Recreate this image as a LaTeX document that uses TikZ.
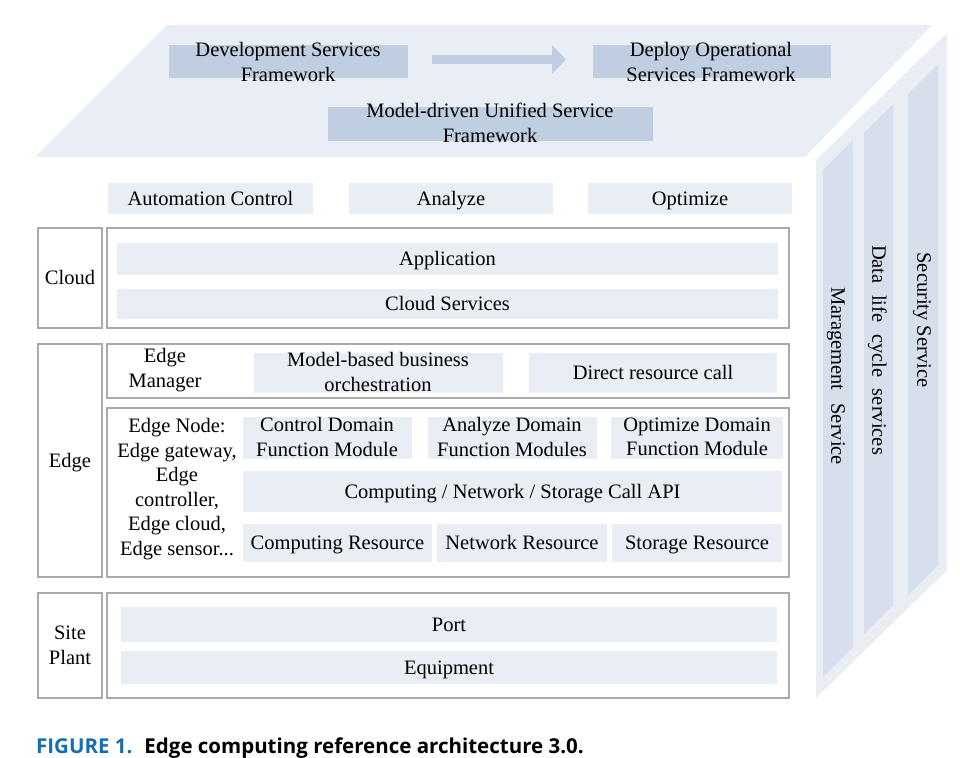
\documentclass[tikz,border=0pt]{standalone}
\usepackage{fontspec}
\setmainfont{Liberation Serif}
\newfontfamily\capfont{Open Sans}
\usetikzlibrary{arrows.meta}
\definecolor{lightc}{RGB}{233,237,244}
\definecolor{darkc}{RGB}{191,206,224}
\definecolor{stripc}{RGB}{214,223,235}
\definecolor{linec}{RGB}{170,170,170}
\definecolor{capblue}{RGB}{22,110,176}
\begin{document}
\begin{tikzpicture}[x=1pt,y=-1pt,
  txt/.style={inner sep=0pt, outer sep=0pt, align=center, font=\fontsize{20.5}{24.5}\selectfont},
  bar/.style={fill=lightc, inner sep=0pt, outer sep=0pt, text height=13.5pt, text depth=0pt, font=\fontsize{20.5}{24.5}\selectfont},
  topbar/.style={fill=darkc, inner sep=0pt, outer sep=0pt},
  strip/.style={fill=stripc},
  frame/.style={draw=linec, line width=1.1pt, inner sep=0pt, outer sep=0pt, align=center, font=\fontsize{20.5}{24.5}\selectfont},
  frameone/.style={frame, text height=13.5pt, text depth=0pt},
  vtxt/.style={inner sep=0pt, rotate=-90, text height=13.5pt, text depth=0pt, font=\fontsize{20.5}{24.5}\selectfont},
  bigarrow/.style={draw=darkc, line width=9pt, -{Triangle[length=14pt,width=28pt]}}
]
\useasboundingbox (0,0) rectangle (960,757);

% top plane
\fill[lightc] (35,157) -- (167,25) -- (932,25) -- (805,157) -- cycle;
\node[topbar, minimum width=239pt, minimum height=33pt] (dev) at (288.5,61.5) {};
\node[topbar, minimum width=238pt, minimum height=33pt] (deploy) at (712,61.5) {};
\node[topbar, minimum width=325pt, minimum height=34pt] (model) at (490.5,124) {};
\node[txt] (devt) at (288,62) {Development Services\\Framework};
\node[txt] (deployt) at (711,62) {Deploy Operational\\Services Framework};
\node[txt] (modelt) at (490,123) {Model-driven Unified Service\\Framework};
\draw[bigarrow] ([xshift=24pt,yshift=2pt]dev.east) -- ([xshift=-27pt,yshift=2pt]deploy.west);

% right side face
\fill[lightc] (816,160) -- (947,33) -- (947,570) -- (816,698) -- cycle;
\fill[strip] (823,170) -- (853,140) -- (853,647) -- (823,677) -- cycle;
\fill[strip] (864,133) -- (893,104) -- (893,605) -- (864,634) -- cycle;
\fill[strip] (908,94) -- (938,64) -- (938,565) -- (908,595) -- cycle;
\node[vtxt] (mgmt) at (838,376) {\makebox[178pt][s]{Maragement Service}};
\node[vtxt] (data) at (879,350) {\makebox[210pt][s]{Data life cycle services}};
\node[vtxt] (sec) at (924,320) {Security Service};

% function row
\node[bar, minimum width=205pt, minimum height=31pt] (auto) at (210.5,198.5) {Automation Control};
\node[bar, minimum width=204pt, minimum height=31pt] (anal) at (451,198.5) {Analyze};
\node[bar, minimum width=204pt, minimum height=31pt] (opt) at (690,198.5) {Optimize};

% cloud
\node[frameone, minimum width=64pt, minimum height=100pt] (cloudl) at (70,278) {Cloud};
\node[frame, minimum width=682pt, minimum height=100pt] (cloudr) at (448,278) {};
\node[bar, minimum width=661pt, minimum height=32pt] (app) at (447.5,259) {Application};
\node[bar, minimum width=661pt, minimum height=30pt] (cs) at (447.5,304) {Cloud Services};

% edge
\node[frameone, minimum width=64pt, minimum height=233pt] (edgel) at (70,460.5) {Edge};
\node[frame, minimum width=682pt, minimum height=54pt] (emgr) at (448,371) {};
\node[frame, minimum width=682pt, minimum height=169pt] (enode) at (448,492.5) {};
\node[txt] (emgrt) at (165,370) {Edge\\Manager};
\node[bar, minimum width=249pt, minimum height=40pt] (mbo) at (378.5,373) {};
\node[txt] (mbot) at (378,372) {Model-based business\\orchestration};
\node[bar, minimum width=248pt, minimum height=40pt] (drc) at (653,373) {Direct resource call};
\node[txt] (enodet) at (177,489) {Edge Node:\\Edge gateway,\\Edge\\controller,\\Edge cloud,\\Edge sensor...};
\node[bar, minimum width=169pt, minimum height=42pt] (cdm) at (327.5,438) {};
\node[bar, minimum width=169pt, minimum height=42pt] (adm) at (512.5,438) {};
\node[bar, minimum width=172pt, minimum height=42pt] (odm) at (697,438) {};
\node[txt] (cdmt) at (327,437) {Control Domain\\Function Module};
\node[txt] (admt) at (512,437) {Analyze Domain\\Function Modules};
\node[txt] (odmt) at (697,437) {Optimize Domain\\Function Module};
\node[bar, minimum width=539pt, minimum height=41pt] (api) at (512.5,491.5) {Computing / Network / Storage Call API};
\node[bar, minimum width=189pt, minimum height=38pt] (cr) at (337.5,543) {Computing Resource};
\node[bar, minimum width=170pt, minimum height=38pt] (nr) at (522,543) {Network Resource};
\node[bar, minimum width=170pt, minimum height=38pt] (sr) at (697,543) {Storage Resource};

% site plant
\node[frame, minimum width=64pt, minimum height=105pt] (sitel) at (70,645.5) {Site\\Plant};
\node[frame, minimum width=682pt, minimum height=105pt] (siter) at (448,645.5) {};
\draw[linec, line width=2.6pt] (sitel.south west) -- (sitel.south east);
\draw[linec, line width=2.6pt] (siter.south west) -- (siter.south east);
\node[bar, minimum width=656pt, minimum height=35pt] (port) at (449,624.5) {Port};
\node[bar, minimum width=656pt, minimum height=33pt] (equip) at (449,667.5) {Equipment};

% caption
\node[anchor=base west, inner sep=0pt, font=\capfont\bfseries\fontsize{20.5}{24}\selectfont] (cap) at (36,753)
  {\textcolor{capblue}{FIGURE 1.}\hspace{12pt}Edge computing reference architecture 3.0.};
\end{tikzpicture}
\end{document}
